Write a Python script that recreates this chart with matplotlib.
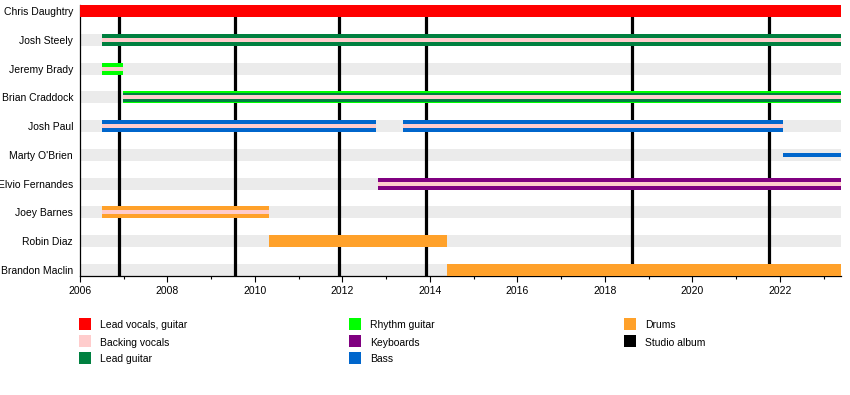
import matplotlib
matplotlib.use('Agg')  # no display
import matplotlib.pyplot as plt
from matplotlib.patches import Rectangle
from matplotlib.ticker import MultipleLocator

plt.rcParams['font.family'] = ['Liberation Sans', 'DejaVu Sans']

# Band members, top to bottom
members = ['Chris Daughtry', 'Josh Steely', 'Jeremy Brady', 'Brian Craddock',
           'Josh Paul', "Marty O'Brien", 'Elvio Fernandes', 'Joey Barnes',
           'Robin Diaz', 'Brandon Maclin']

# Membership periods (decimal years) and the roles held in each
seg_member = ['Chris Daughtry', 'Josh Steely', 'Jeremy Brady', 'Brian Craddock',
              'Josh Paul', 'Josh Paul', "Marty O'Brien", 'Elvio Fernandes',
              'Joey Barnes', 'Robin Diaz', 'Brandon Maclin']
seg_start = [2006.0, 2006.5, 2006.5, 2006.98, 2006.5, 2013.38, 2022.08,
             2012.81, 2006.5, 2010.32, 2014.4]
seg_end = [2023.4, 2023.4, 2006.98, 2023.4, 2012.77, 2022.08, 2023.4,
           2023.4, 2010.32, 2014.4, 2023.4]
seg_roles = [['vocals'], ['lead', 'backing'], ['rhythm', 'backing'],
             ['rhythm', 'lead', 'backing'], ['bass', 'backing'],
             ['bass', 'backing'], ['bass'], ['keys', 'backing'],
             ['drums', 'backing'], ['drums'], ['drums']]

# Studio album release dates
albums = [2006.89, 2009.54, 2011.92, 2013.91, 2018.62, 2021.75]

timeline_start = 2006.0
timeline_end = 2023.4

role_colors = {
    'vocals': '#ff0000',
    'backing': '#ffcccc',
    'lead': '#008040',
    'rhythm': '#00ff00',
    'keys': '#800080',
    'bass': '#0066cc',
    'drums': '#ffa12a',
}
legend_items = [
    ('Lead vocals, guitar', '#ff0000'), ('Backing vocals', '#ffcccc'),
    ('Lead guitar', '#008040'), ('Rhythm guitar', '#00ff00'),
    ('Keyboards', '#800080'), ('Bass', '#0066cc'),
    ('Drums', '#ffa12a'), ('Studio album', '#000000'),
]

W, H = 850, 395
fig = plt.figure(figsize=(W / 100, H / 100), dpi=100)
ax = fig.add_axes([80 / W, 1 - 276 / H, (841 - 80) / W, (276 - 5) / H])

FULL = 0.42
MID = 0.31
THIN = 0.14

rows = {m: i for i, m in enumerate(members)}

# light grey row bands
ax.barh(range(len(members)), timeline_end - timeline_start, left=timeline_start,
        height=FULL, color='#ebebeb', zorder=1)

# album lines
ax.vlines(albums, 0, len(members) - 1 + FULL / 2, color='black', lw=2.3, zorder=2)

for m, s, e, roles in zip(seg_member, seg_start, seg_end, seg_roles):
    y = rows[m]
    main = [r for r in roles if r != 'backing']
    if len(roles) == 1 and m == "Marty O'Brien":
        heights = [THIN]
    elif len(main) == 2:
        heights = [FULL, MID]
    else:
        heights = [FULL]
    for r, h in zip(main, heights):
        ax.barh(y, e - s, left=s, height=h, color=role_colors[r], zorder=3)
    if 'backing' in roles:
        ax.barh(y, e - s, left=s, height=THIN, color=role_colors['backing'],
                zorder=4)

ax.set_xlim(timeline_start, timeline_end)
ax.set_ylim(len(members) - 1 + FULL / 2, -FULL / 2)
ax.set_yticks(range(len(members)))
ax.set_yticklabels(members, fontsize=7.5)
ax.tick_params(axis='y', length=0, pad=5)
ax.xaxis.set_major_locator(MultipleLocator(2))
ax.xaxis.set_minor_locator(MultipleLocator(1))
ax.tick_params(axis='x', which='major', length=4, width=0.8, labelsize=7.5, pad=3)
ax.tick_params(axis='x', which='minor', length=2.5, width=0.8)
for side in ['top', 'right']:
    ax.spines[side].set_visible(False)
for side in ['left', 'bottom']:
    ax.spines[side].set_linewidth(0.9)

# legend, three columns laid out like the original
col_x = [79, 349, 624]
row_y = [323.5, 340.5, 357.5]
for i, (label, color) in enumerate(legend_items):
    cx = col_x[i // 3]
    cy = row_y[i % 3]
    fig.add_artist(Rectangle((cx / W, 1 - (cy + 6) / H), 12 / W, 12 / H,
                             transform=fig.transFigure, color=color, lw=0))
    fig.text((cx + 21) / W, 1 - (cy + 1) / H, label, fontsize=7.5,
             va='center_baseline', ha='left')

plt.savefig('out.png', dpi=100)
